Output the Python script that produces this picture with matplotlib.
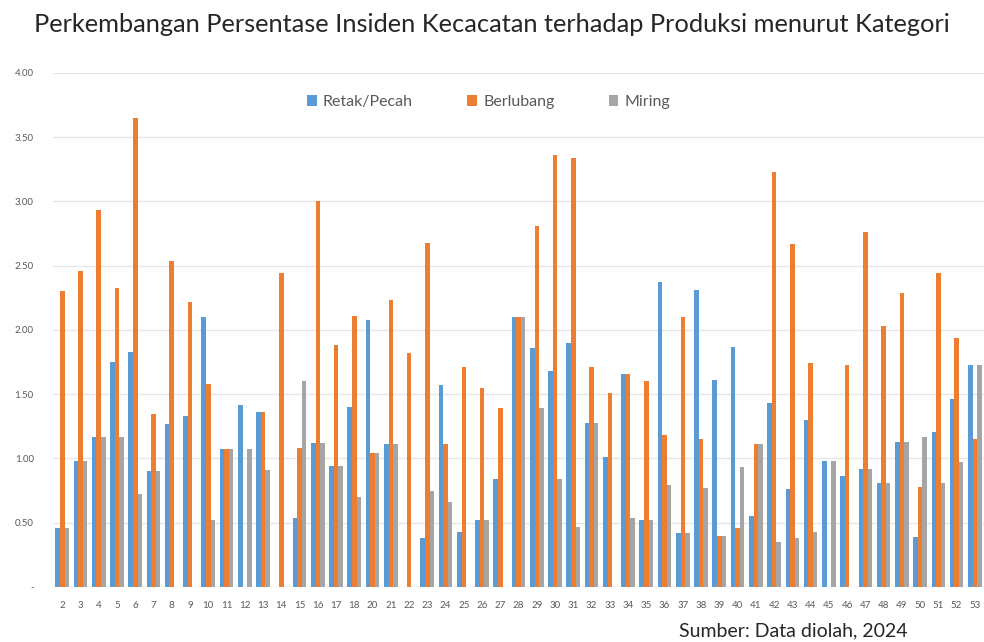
import matplotlib
matplotlib.use("Agg")
import matplotlib.pyplot as plt
import numpy as np
from matplotlib.ticker import FuncFormatter, MultipleLocator

plt.rcParams['font.family'] = ['Lato', 'DejaVu Sans']

categories = [str(c) for c in list(range(2, 19)) + list(range(20, 54))]

retak_pecah = [0.46, 0.98, 1.17, 1.75, 1.83, 0.90, 1.27, 1.33, 2.10, 1.07,
               1.42, 1.36, 0.00, 0.54, 1.12, 0.94, 1.40, 2.08, 1.11, 0.00,
               0.38, 1.57, 0.43, 0.52, 0.84, 2.10, 1.86, 1.68, 1.90, 1.28,
               1.01, 1.66, 0.52, 2.37, 0.42, 2.31, 1.61, 1.87, 0.55, 1.43,
               0.76, 1.30, 0.98, 0.86, 0.92, 0.81, 1.13, 0.39, 1.21, 1.46,
               1.73]

berlubang = [2.30, 2.46, 2.93, 2.33, 3.65, 1.35, 2.54, 2.22, 1.58, 1.07,
             0.00, 1.36, 2.44, 1.08, 3.00, 1.88, 2.11, 1.04, 2.23, 1.82,
             2.68, 1.11, 1.71, 1.55, 1.39, 2.10, 2.81, 3.36, 3.34, 1.71,
             1.51, 1.66, 1.60, 1.18, 2.10, 1.15, 0.40, 0.46, 1.11, 3.23,
             2.67, 1.74, 0.00, 1.73, 2.76, 2.03, 2.29, 0.78, 2.44, 1.94,
             1.15]

miring = [0.46, 0.98, 1.17, 1.17, 0.72, 0.90, 0.00, 0.00, 0.52, 1.07,
          1.07, 0.91, 0.00, 1.60, 1.12, 0.94, 0.70, 1.04, 1.11, 0.00,
          0.75, 0.66, 0.00, 0.52, 0.00, 2.10, 1.39, 0.84, 0.47, 1.28,
          0.00, 0.54, 0.52, 0.79, 0.42, 0.77, 0.40, 0.93, 1.11, 0.35,
          0.38, 0.43, 0.98, 0.00, 0.92, 0.81, 1.13, 1.17, 0.81, 0.97,
          1.73]

series = [("Retak/Pecah", retak_pecah, "#5B9BD5"),
          ("Berlubang", berlubang, "#ED7D31"),
          ("Miring", miring, "#A5A5A5")]

fig = plt.figure(figsize=(9.84, 6.42), dpi=100)
ax = fig.add_axes([0.054, 0.0857, 0.946, 0.8006])

x = np.arange(len(categories))
width = 0.25
offsets = [-width, 0.0, width]
for (name, vals, color), off in zip(series, offsets):
    ax.bar(x + off, vals, width=width, color=color, label=name, zorder=3)

ax.set_xlim(-0.5, len(categories) - 0.5)
ax.set_ylim(0, 4.0)
ax.yaxis.set_major_locator(MultipleLocator(0.5))
ax.yaxis.set_major_formatter(FuncFormatter(lambda v, p: "-" if abs(v) < 1e-9 else f"{v:.2f}"))
ax.grid(axis="y", color="#E6E6E6", linewidth=1.0, zorder=0)
ax.set_xticks(x)
ax.set_xticklabels(categories)
ax.tick_params(axis="both", length=0, labelsize=7, colors="#595959")
ax.tick_params(axis="x", pad=10)
ax.tick_params(axis="y", pad=14)
for s in ax.spines.values():
    s.set_visible(False)

leg = ax.legend(loc="upper center", bbox_to_anchor=(0.468, 0.985), ncol=3,
                frameon=False, fontsize=11.5, handlelength=0.6, handleheight=0.6,
                columnspacing=3.4, handletextpad=0.4, labelcolor="#595959")

fig.text(0.5, 0.962, "Perkembangan Persentase Insiden Kecacatan terhadap Produksi menurut Kategori",
         ha="center", va="center", fontsize=18.3, color="#262626")
fig.text(0.69, 0.018, "Sumber: Data diolah, 2024", ha="left", va="center",
         fontsize=14, color="#262626")

fig.savefig("out.png", dpi=100)
